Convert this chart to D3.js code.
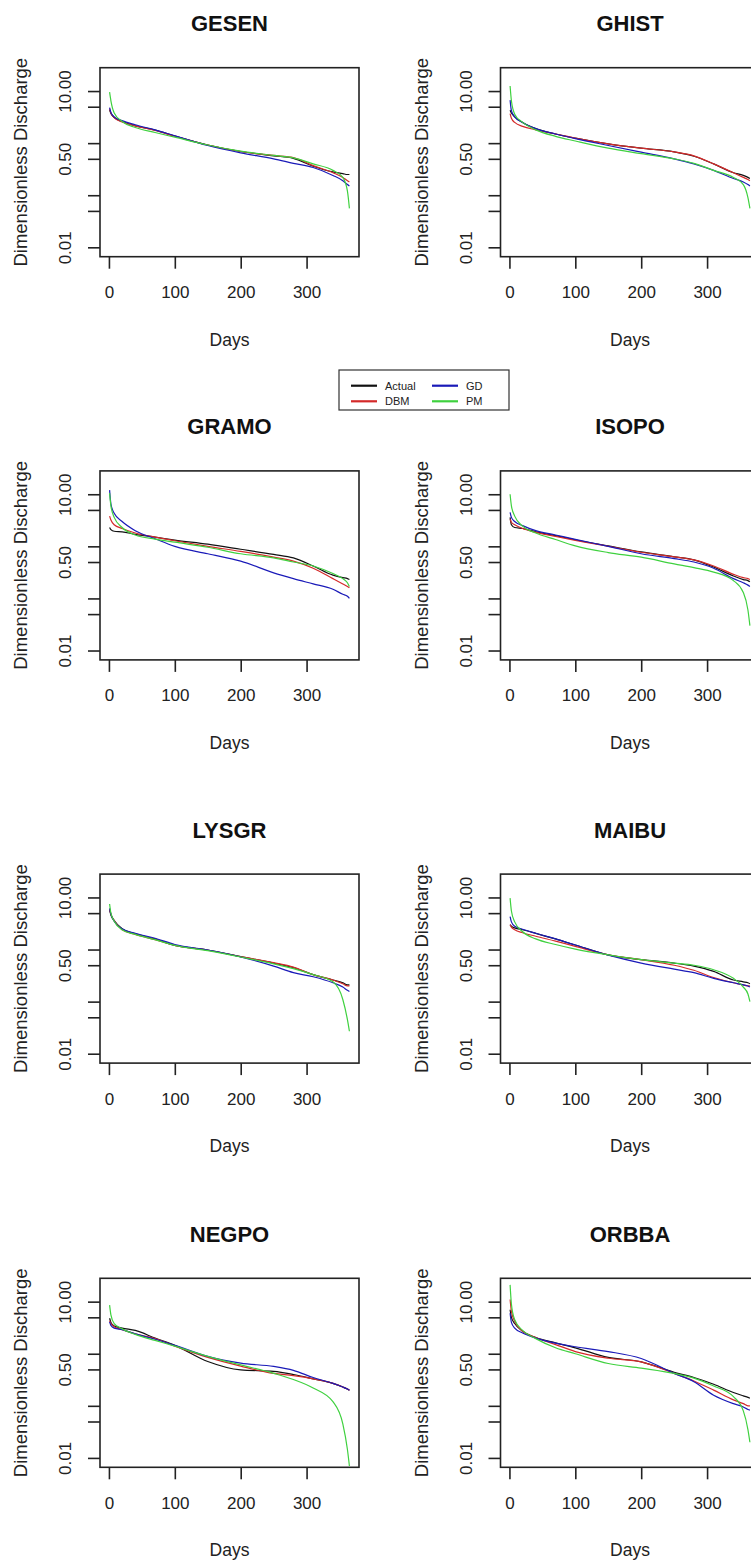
<!DOCTYPE html>
<html>
<head>
<meta charset="utf-8">
<script src="https://cdnjs.cloudflare.com/ajax/libs/d3/7.8.5/d3.min.js"></script>
<style>
  html, body { margin: 0; padding: 0; background: #fff; }
  svg { display: block; font-family: "Liberation Sans", Arial, Helvetica, sans-serif; }
</style>
</head>
<body>
<svg id="chart" width="751" height="1564"></svg>
<script>
// Flow duration curves: dimensionless discharge vs. exceedance day, per station.
const stations = ["GESEN", "GHIST", "GRAMO", "ISOPO", "LYSGR", "MAIBU", "NEGPO", "ORBBA"];
const seriesNames = ["Actual", "DBM", "GD", "PM"];
const seriesColors = ["#111111", "#d42a2a", "#1a1ab8", "#3fd13f"];

// Days at which each curve is sampled
const days = [1, 3, 8, 20, 40, 70, 100, 150, 200, 250, 280, 310, 340, 355, 362, 365];

const GESEN_Actual = [4.3, 3.7, 3.1, 2.6, 2.15, 1.78, 1.37, 0.92, 0.69, 0.57, 0.51, 0.36, 0.28, 0.26, 0.25, 0.25];
const GESEN_DBM    = [4.6, 3.8, 3.1, 2.55, 2.15, 1.75, 1.36, 0.92, 0.69, 0.58, 0.53, 0.37, 0.27, 0.22, 0.19, 0.18];
const GESEN_GD     = [4.8, 3.9, 3.2, 2.7, 2.25, 1.8, 1.38, 0.9, 0.65, 0.5, 0.41, 0.34, 0.24, 0.19, 0.16, 0.15];
const GESEN_PM     = [9.5, 6.5, 3.8, 2.6, 2.0, 1.6, 1.3, 0.92, 0.7, 0.58, 0.52, 0.4, 0.3, 0.22, 0.12, 0.056];

const GHIST_Actual = [4.3, 3.8, 3.2, 2.5, 1.9, 1.5, 1.25, 0.97, 0.8, 0.68, 0.56, 0.4, 0.27, 0.24, 0.22, 0.21];
const GHIST_DBM    = [3.7, 3.0, 2.5, 2.1, 1.8, 1.5, 1.25, 0.97, 0.8, 0.68, 0.57, 0.4, 0.27, 0.22, 0.2, 0.19];
const GHIST_GD     = [6.7, 4.2, 3.2, 2.5, 1.9, 1.5, 1.22, 0.9, 0.67, 0.5, 0.4, 0.3, 0.21, 0.18, 0.16, 0.15];
const GHIST_PM     = [12.5, 6.5, 3.6, 2.5, 1.8, 1.35, 1.1, 0.8, 0.63, 0.5, 0.41, 0.3, 0.22, 0.16, 0.09, 0.056];

const GRAMO_Actual = [2.3, 2.1, 1.95, 1.9, 1.7, 1.5, 1.32, 1.1, 0.88, 0.7, 0.6, 0.42, 0.28, 0.25, 0.24, 0.23];
const GRAMO_DBM    = [3.8, 3.2, 2.6, 2.2, 1.8, 1.5, 1.28, 1.0, 0.8, 0.62, 0.52, 0.38, 0.24, 0.19, 0.17, 0.16];
const GRAMO_GD     = [12.0, 6.5, 4.3, 3.0, 2.0, 1.4, 1.0, 0.72, 0.52, 0.31, 0.24, 0.19, 0.15, 0.12, 0.11, 0.1];
const GRAMO_PM     = [10.5, 6.0, 3.6, 2.3, 1.65, 1.38, 1.2, 0.96, 0.72, 0.6, 0.5, 0.42, 0.3, 0.24, 0.2, 0.17];

const ISOPO_Actual = [3.6, 2.6, 2.3, 2.2, 1.9, 1.6, 1.34, 1.02, 0.78, 0.63, 0.55, 0.4, 0.27, 0.23, 0.22, 0.21];
const ISOPO_DBM    = [3.3, 2.9, 2.6, 2.2, 1.85, 1.55, 1.3, 1.0, 0.77, 0.63, 0.55, 0.42, 0.29, 0.25, 0.24, 0.23];
const ISOPO_GD     = [4.5, 3.6, 3.0, 2.5, 2.0, 1.65, 1.36, 1.0, 0.72, 0.58, 0.5, 0.38, 0.24, 0.2, 0.18, 0.17];
const ISOPO_PM     = [10.0, 6.0, 3.8, 2.45, 1.8, 1.35, 1.02, 0.76, 0.62, 0.46, 0.39, 0.32, 0.22, 0.13, 0.06, 0.03];

const LYSGR_Actual = [5.7, 4.6, 3.6, 2.5, 2.0, 1.6, 1.2, 0.98, 0.73, 0.55, 0.45, 0.33, 0.26, 0.23, 0.21, 0.21];
const LYSGR_DBM    = [6.0, 4.8, 3.6, 2.4, 1.95, 1.55, 1.2, 0.97, 0.73, 0.56, 0.46, 0.33, 0.26, 0.22, 0.2, 0.2];
const LYSGR_GD     = [6.2, 4.8, 3.5, 2.5, 2.05, 1.65, 1.25, 0.98, 0.72, 0.48, 0.36, 0.3, 0.23, 0.19, 0.165, 0.157];
const LYSGR_PM     = [7.5, 5.0, 3.5, 2.4, 1.95, 1.55, 1.2, 0.95, 0.72, 0.53, 0.43, 0.33, 0.24, 0.11, 0.045, 0.027];

const MAIBU_Actual = [3.0, 2.8, 2.6, 2.4, 2.05, 1.6, 1.22, 0.79, 0.64, 0.55, 0.48, 0.38, 0.26, 0.24, 0.23, 0.22];
const MAIBU_DBM    = [3.0, 2.7, 2.4, 2.1, 1.8, 1.45, 1.15, 0.79, 0.64, 0.5, 0.4, 0.29, 0.23, 0.21, 0.2, 0.2];
const MAIBU_GD     = [4.3, 3.4, 2.8, 2.45, 2.05, 1.6, 1.22, 0.78, 0.55, 0.42, 0.36, 0.28, 0.23, 0.21, 0.2, 0.19];
const MAIBU_PM     = [9.7, 5.5, 3.4, 2.2, 1.6, 1.25, 1.02, 0.79, 0.64, 0.55, 0.5, 0.41, 0.28, 0.19, 0.14, 0.1];

const NEGPO_Actual = [4.8, 4.0, 3.4, 3.1, 2.8, 2.0, 1.45, 0.71, 0.49, 0.46, 0.4, 0.33, 0.27, 0.23, 0.21, 0.2];
const NEGPO_DBM    = [4.3, 3.8, 3.3, 2.9, 2.4, 1.95, 1.4, 0.85, 0.58, 0.42, 0.38, 0.33, 0.27, 0.23, 0.21, 0.2];
const NEGPO_GD     = [4.1, 3.5, 3.1, 2.9, 2.4, 1.9, 1.45, 0.89, 0.66, 0.57, 0.48, 0.35, 0.27, 0.23, 0.21, 0.2];
const NEGPO_PM     = [8.6, 5.6, 3.8, 3.0, 2.35, 1.8, 1.4, 0.89, 0.61, 0.42, 0.32, 0.22, 0.12, 0.045, 0.0145, 0.007];

const ORBBA_Actual = [7.0, 5.0, 3.8, 2.7, 2.05, 1.62, 1.3, 0.85, 0.7, 0.44, 0.35, 0.26, 0.18, 0.155, 0.145, 0.14];
const ORBBA_DBM    = [11.0, 6.5, 4.2, 2.7, 2.05, 1.5, 1.1, 0.82, 0.7, 0.42, 0.3, 0.2, 0.13, 0.11, 0.1, 0.1];
const ORBBA_GD     = [6.0, 4.0, 3.1, 2.5, 2.0, 1.6, 1.36, 1.1, 0.81, 0.42, 0.29, 0.16, 0.11, 0.095, 0.085, 0.083];
const ORBBA_PM     = [21.0, 9.0, 4.5, 2.8, 1.95, 1.3, 1.0, 0.65, 0.53, 0.42, 0.34, 0.24, 0.15, 0.08, 0.035, 0.02];

const stationSeries = {
  GESEN: [GESEN_Actual, GESEN_DBM, GESEN_GD, GESEN_PM],
  GHIST: [GHIST_Actual, GHIST_DBM, GHIST_GD, GHIST_PM],
  GRAMO: [GRAMO_Actual, GRAMO_DBM, GRAMO_GD, GRAMO_PM],
  ISOPO: [ISOPO_Actual, ISOPO_DBM, ISOPO_GD, ISOPO_PM],
  LYSGR: [LYSGR_Actual, LYSGR_DBM, LYSGR_GD, LYSGR_PM],
  MAIBU: [MAIBU_Actual, MAIBU_DBM, MAIBU_GD, MAIBU_PM],
  NEGPO: [NEGPO_Actual, NEGPO_DBM, NEGPO_GD, NEGPO_PM],
  ORBBA: [ORBBA_Actual, ORBBA_DBM, ORBBA_GD, ORBBA_PM]
};

const xTicks = [0, 100, 200, 300];
const yTicks = [0.01, 0.05, 0.1, 0.5, 1, 5, 10];
const yTickLabels = { 0.01: "0.01", 0.5: "0.50", 10: "10.00" };

// Shared axis limits (R-style 4% padding around the plotted range)
const xRange = [1, 365];
const yRange = [0.009, 20.6];
const pad = 0.04;
const xDomain = [xRange[0] - pad * (xRange[1] - xRange[0]), xRange[1] + pad * (xRange[1] - xRange[0])];
const lyr = [Math.log10(yRange[0]), Math.log10(yRange[1])];
const yDomain = [Math.pow(10, lyr[0] - pad * (lyr[1] - lyr[0])), Math.pow(10, lyr[1] + pad * (lyr[1] - lyr[0]))];

// Layout
const boxW = 259, boxH = 189;
const colX = [100, 500.5];
const rowTop = [67.7, 470.9, 874.1, 1278.3];

const svg = d3.select("#chart");
const defs = svg.append("defs");

stations.forEach((name, i) => {
  const bx = colX[i % 2], by = rowTop[Math.floor(i / 2)];
  const g = svg.append("g").attr("transform", `translate(${bx},${by})`);

  const x = d3.scaleLinear().domain(xDomain).range([0, boxW]);
  const y = d3.scaleLog().domain(yDomain).range([boxH, 0]);

  const clipId = "clip-" + name;
  defs.append("clipPath").attr("id", clipId)
    .append("rect").attr("x", 0).attr("y", 0).attr("width", boxW).attr("height", boxH);

  // Curves
  const line = d3.line()
    .x(d => x(d[0]))
    .y(d => y(d[1]))
    .curve(d3.curveMonotoneX);

  const plot = g.append("g").attr("clip-path", `url(#${clipId})`);
  stationSeries[name].forEach((vals, k) => {
    const pts = days.map((d, j) => [d, vals[j]]);
    plot.append("path")
      .datum(pts)
      .attr("d", line)
      .attr("fill", "none")
      .attr("stroke", seriesColors[k])
      .attr("stroke-width", 1.2)
      .attr("stroke-linejoin", "round");
  });

  // Frame
  g.append("rect")
    .attr("x", 0).attr("y", 0).attr("width", boxW).attr("height", boxH)
    .attr("fill", "none").attr("stroke", "#222").attr("stroke-width", 1.6);

  // X axis
  const xAxis = g.append("g")
    .attr("transform", `translate(0,${boxH})`)
    .call(d3.axisBottom(x).tickValues(xTicks).tickSize(12).tickSizeOuter(0).tickPadding(0));
  xAxis.select(".domain").remove();
  xAxis.selectAll(".tick line").attr("stroke", "#222").attr("stroke-width", 1.6);
  xAxis.selectAll(".tick text")
    .attr("y", 36).attr("dy", null)
    .attr("dominant-baseline", "central")
    .attr("font-size", 17).attr("fill", "#222")
    .attr("font-family", "Liberation Sans, Arial, sans-serif");

  // Y axis (log)
  const yAxis = g.append("g")
    .call(d3.axisLeft(y).tickValues(yTicks).tickSize(12).tickSizeOuter(0)
      .tickFormat(d => yTickLabels[d] || ""));
  yAxis.select(".domain").remove();
  yAxis.selectAll(".tick line").attr("stroke", "#222").attr("stroke-width", 1.6);
  yAxis.selectAll(".tick text")
    .attr("x", 0).attr("y", 0).attr("dy", null)
    .attr("text-anchor", "middle")
    .attr("dominant-baseline", "central")
    .attr("transform", "translate(-34.5,0) rotate(-90)")
    .attr("font-size", 17).attr("fill", "#222")
    .attr("font-family", "Liberation Sans, Arial, sans-serif");

  // Titles and axis labels
  g.append("text")
    .attr("x", boxW / 2).attr("y", -44)
    .attr("text-anchor", "middle").attr("dominant-baseline", "central")
    .attr("font-size", 22).attr("font-weight", "bold").attr("fill", "#111")
    .text(name);

  g.append("text")
    .attr("x", boxW / 2).attr("y", boxH + 83)
    .attr("text-anchor", "middle").attr("dominant-baseline", "central")
    .attr("font-size", 17.5).attr("fill", "#222")
    .text("Days");

  g.append("text")
    .attr("transform", `translate(-79.5,${boxH / 2}) rotate(-90)`)
    .attr("text-anchor", "middle").attr("dominant-baseline", "central")
    .attr("font-size", 18.5).attr("fill", "#222")
    .text("Dimensionless Discharge");
});

// Legend
const legend = svg.append("g").attr("transform", "translate(339,370)");
legend.append("rect")
  .attr("x", 0).attr("y", 0).attr("width", 170).attr("height", 40)
  .attr("fill", "#fff").attr("stroke", "#333").attr("stroke-width", 1.2);
const legendPos = [[12, 15.7], [12, 31.3], [93, 15.7], [93, 31.3]];
seriesNames.forEach((s, k) => {
  const [lx, ly] = legendPos[k];
  legend.append("line")
    .attr("x1", lx).attr("x2", lx + 26).attr("y1", ly).attr("y2", ly)
    .attr("stroke", seriesColors[k]).attr("stroke-width", 2.2);
  legend.append("text")
    .attr("x", lx + 34).attr("y", ly)
    .attr("dominant-baseline", "central")
    .attr("font-size", 11).attr("fill", "#222")
    .text(s);
});
</script>
</body>
</html>
